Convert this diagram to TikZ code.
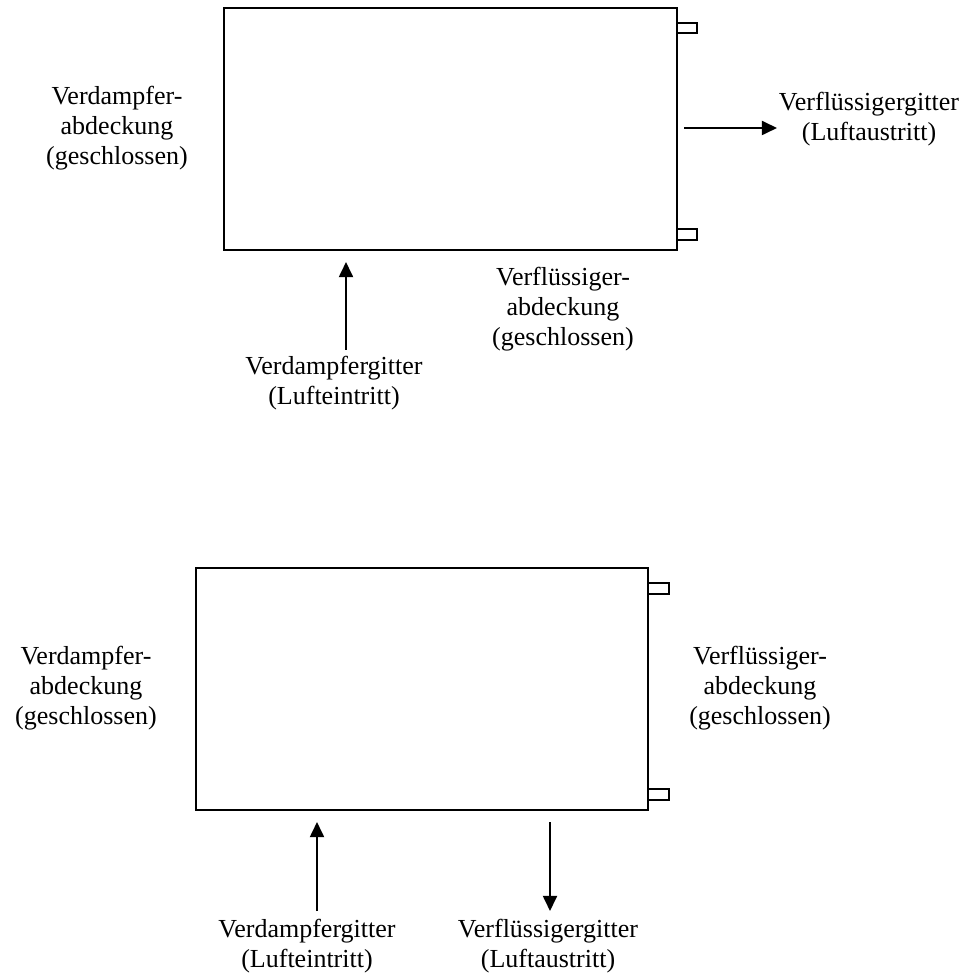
\documentclass[tikz,border=0pt]{standalone}
\usepackage{fontspec}
\setmainfont{Liberation Serif}
\usetikzlibrary{arrows.meta}
\begin{document}
\begin{tikzpicture}[x=0.4615pt,y=-0.4615pt,
  lbl/.style={align=center, inner sep=0pt, font=\fontsize{12}{13.8}\selectfont},
  unit/.style={draw, line width=0.9pt},
  tab/.style={draw, line width=0.7pt},
  flow/.style={-{Triangle[length=7pt,width=6.5pt]}, line width=0.9pt}]
\useasboundingbox (0,0) rectangle (974,973);
% upper unit
\draw[unit] (224,8) rectangle (677,250);
\draw[tab] (677,23) -- (697,23) -- (697,33) -- (677,33);
\draw[tab] (677,229) -- (697,229) -- (697,240) -- (677,240);
\node[lbl] (evapA) at (117,128) {Verdampfer-\\abdeckung\\(geschlossen)};
\node[lbl] (condA) at (563,309) {Verflüssiger-\\abdeckung\\(geschlossen)};
\node[lbl] (outA) at (869,119) {Verflüssigergitter\\(Luftaustritt)};
\node[lbl] (inA) at (334,383) {Verdampfergitter\\(Lufteintritt)};
\coordinate (outA0) at (684,128);
\coordinate (outA1) at (777,128);
\coordinate (inA0) at (346,350);
\coordinate (inA1) at (346,262);
\draw[flow] (outA0) -- (outA1);
\draw[flow] (inA0) -- (inA1);
% lower unit
\draw[unit] (196,568) rectangle (648,810);
\draw[tab] (648,583) -- (669,583) -- (669,594) -- (648,594);
\draw[tab] (648,789) -- (669,789) -- (669,800) -- (648,800);
\node[lbl] (evapB) at (86,688) {Verdampfer-\\abdeckung\\(geschlossen)};
\node[lbl] (condB) at (760,688) {Verflüssiger-\\abdeckung\\(geschlossen)};
\node[lbl] (inB) at (307,946) {Verdampfergitter\\(Lufteintritt)};
\node[lbl] (outB) at (548,946) {Verflüssigergitter\\(Luftaustritt)};
\coordinate (inB0) at (317,911);
\coordinate (inB1) at (317,822);
\coordinate (outB0) at (550,822);
\coordinate (outB1) at (550,911);
\draw[flow] (inB0) -- (inB1);
\draw[flow] (outB0) -- (outB1);
\end{tikzpicture}
\end{document}
